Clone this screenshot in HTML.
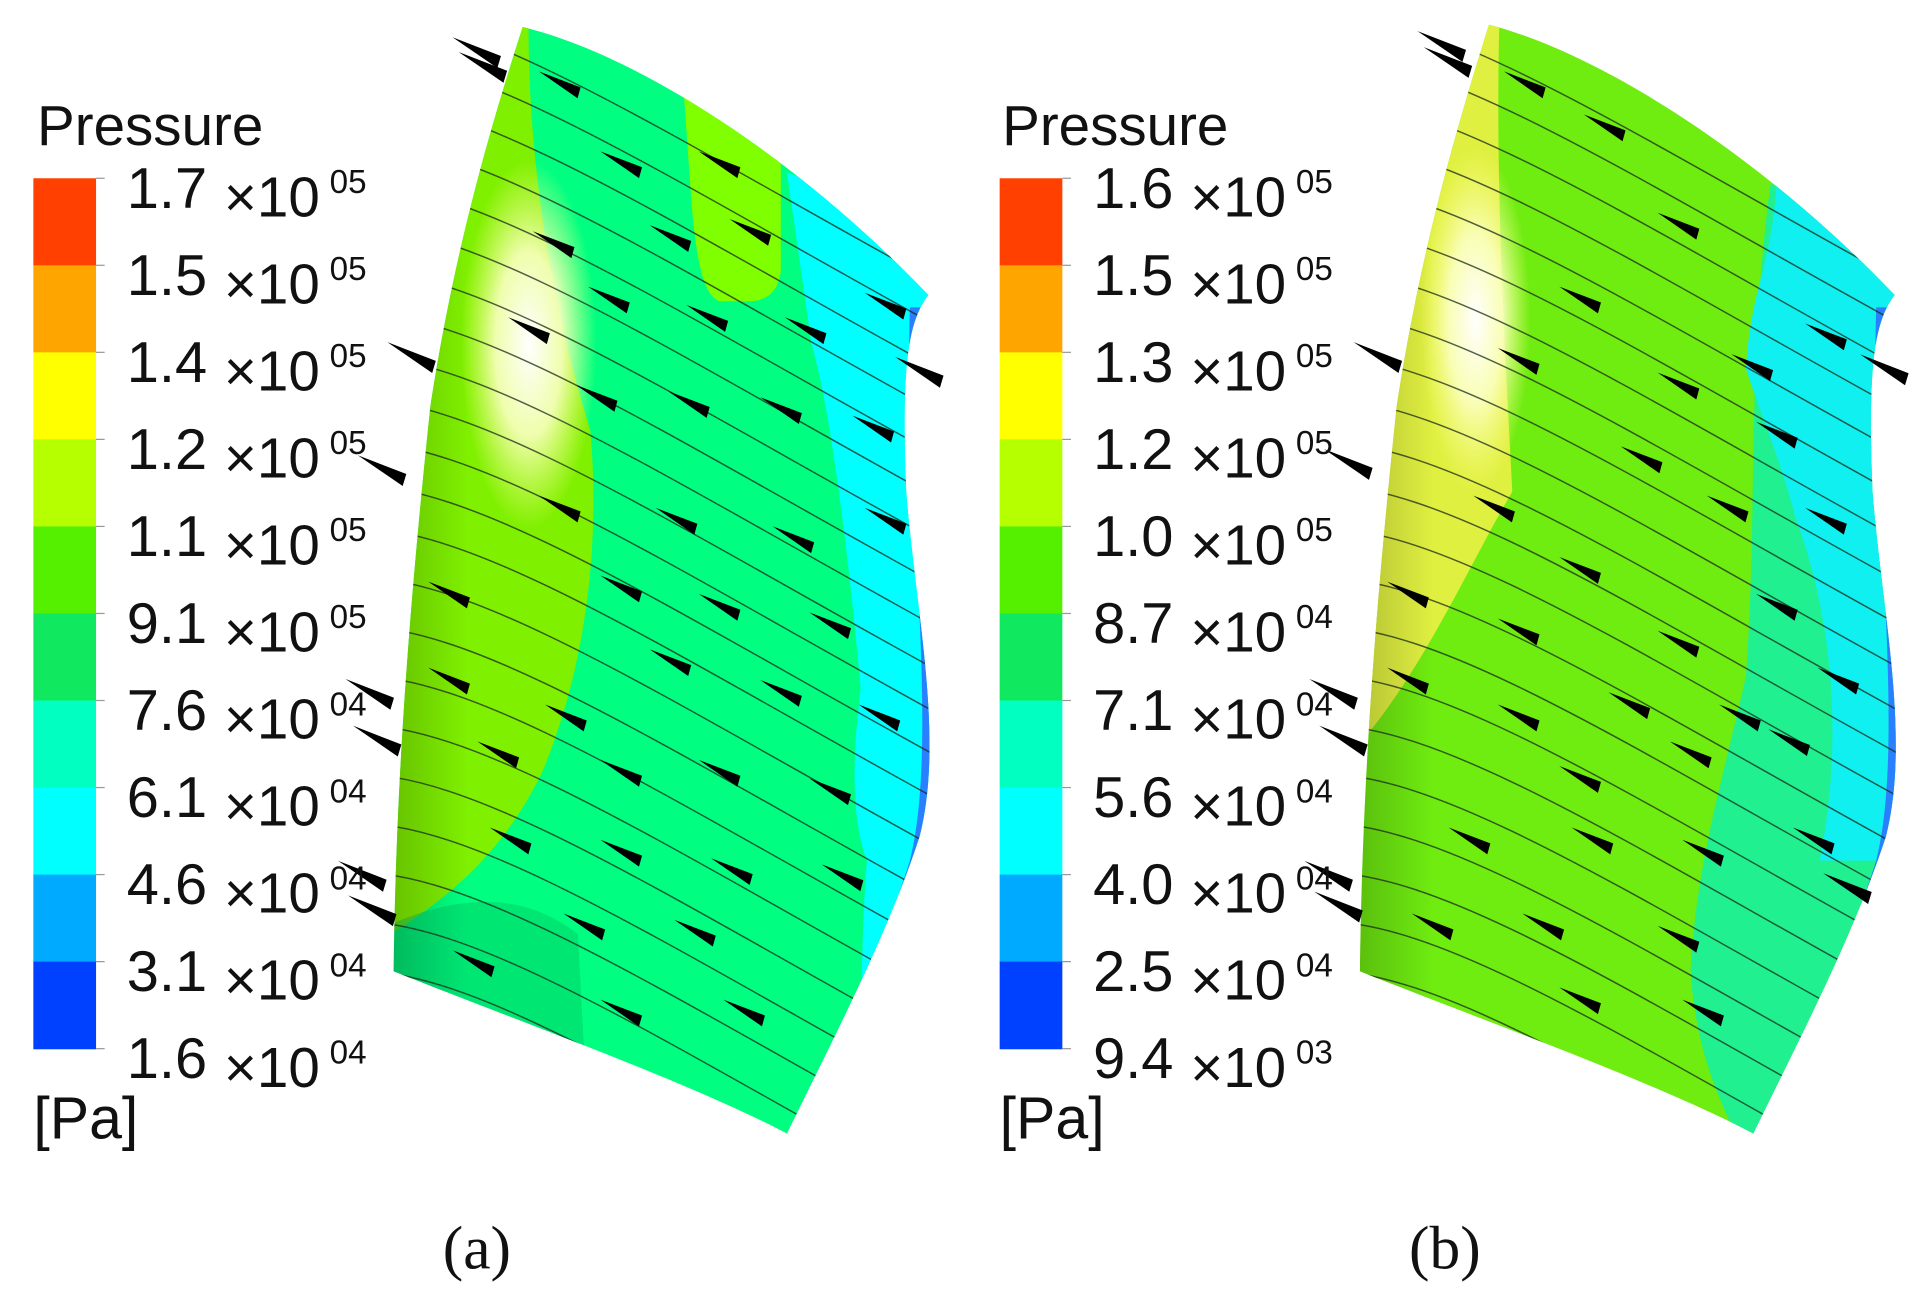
<!DOCTYPE html>
<html><head><meta charset="utf-8"><style>
html,body{margin:0;padding:0;background:#fff;width:1928px;height:1297px;overflow:hidden}
svg{display:block}
text{font-family:"Liberation Sans",sans-serif;fill:#111}
</style></head><body>
<svg id="fig" width="1928" height="1297" viewBox="0 0 1568 1055" xmlns="http://www.w3.org/2000/svg">
<defs>
<radialGradient id="hlA" cx="0.5" cy="0.5" r="0.5"><stop offset="0" stop-color="#ffffff"/><stop offset="0.5" stop-color="#fbffc0" stop-opacity="0.9"/><stop offset="1" stop-color="#fbff80" stop-opacity="0"/></radialGradient>
<linearGradient id="shadeL" x1="0" y1="0" x2="1" y2="0"><stop offset="0" stop-color="#000" stop-opacity="0.25"/><stop offset="1" stop-color="#000" stop-opacity="0"/></linearGradient>
<clipPath id="clipA"><path d="M425,22 C520,45 650,130 755,240 C738,262 733,300 737,400 C745,500 768,600 748,680 C722,760 680,840 640,922 C560,880 420,830 320,790 C322,650 330,520 350,330 C370,200 400,100 425,22 Z"/></clipPath>
<clipPath id="clipB"><path d="M1211,20 C1306,45 1436,130 1541,240 C1524,262 1519,300 1523,400 C1531,500 1554,600 1534,680 C1508,760 1466,840 1426,922 C1346,880 1206,830 1106,790 C1108,650 1116,520 1136,330 C1156,200 1186,100 1211,20 Z"/></clipPath>
</defs>
<g id="panelA">
 <g clip-path="url(#clipA)">
  <rect x="300" y="0" width="480" height="950" fill="#00ff80"/>
  <path d="M300,0 L430,0 C428,100 440,220 480,350 C490,460 470,560 440,630 C410,690 370,730 300,770 Z" fill="#7ff000"/>
  <ellipse cx="430" cy="280" rx="55" ry="150" fill="url(#hlA)"/>
  <path d="M555,60 L635,110 L635,220 C633,240 620,245 610,245 L585,245 C570,240 565,200 562,160 Z" fill="#80ff00"/>
  <path d="M640,140 L790,200 L790,950 L700,950 C700,850 700,760 705,700 C690,660 695,600 700,560 C690,450 675,330 660,280 Z" fill="#00ffff"/>
  <path d="M740,250 C735,400 765,600 740,700 C715,780 680,850 640,922 L660,930 C700,850 740,780 760,700 C780,600 750,400 755,250 Z" fill="#2a7fff"/>
  <path d="M300,760 C360,730 420,720 470,760 L480,950 L300,950 Z" fill="#00c060" opacity="0.4"/>
  <path d="M300,790 C420,830 560,880 640,922 L640,940 L300,940 Z" fill="#60e020"/>
  <rect x="300" y="0" width="80" height="950" fill="url(#shadeL)"/>
  <g id="linesA"></g><g id="arrA"></g>
 </g>
 <g id="edgeA"></g>
 <g id="cbarA"></g>
 <text x="30" y="118" font-size="46">Pressure</text>
 <text x="27" y="926" font-size="48">[Pa]</text>
 <text x="360" y="1032" font-size="50" style="font-family:'Liberation Serif',serif">(a)</text>
</g>
<g id="panelB">
 <g clip-path="url(#clipB)">
  <rect x="1086" y="0" width="480" height="950" fill="#6fec10"/>
  <path d="M1086,0 L1220,0 C1215,150 1225,300 1230,400 C1200,450 1160,540 1110,600 L1086,620 Z" fill="#e0f040"/>
  <ellipse cx="1200" cy="260" rx="45" ry="140" fill="url(#hlA)"/>
  <path d="M1440,150 C1420,300 1430,420 1420,550 C1400,640 1380,700 1375,790 C1380,860 1400,900 1426,950 L1570,950 L1570,150 Z" fill="#20f090"/>
  <path d="M1445,150 C1440,220 1425,230 1420,300 C1430,330 1450,380 1460,420 C1490,500 1500,600 1480,700 L1570,700 L1570,150 Z" fill="#10f0f0"/>
  <path d="M1526,250 C1521,400 1551,600 1526,700 C1501,780 1461,850 1426,922 L1446,930 C1486,850 1526,780 1546,700 C1566,600 1536,400 1541,250 Z" fill="#2a7fff"/>
  <rect x="1086" y="0" width="80" height="950" fill="url(#shadeL)"/>
  <g id="linesB"></g><g id="arrB"></g>
 </g>
 <g id="edgeB"></g>
 <g id="cbarB"></g>
 <text x="815" y="118" font-size="46">Pressure</text>
 <text x="813" y="926" font-size="48">[Pa]</text>
 <text x="1146" y="1032" font-size="50" style="font-family:'Liberation Serif',serif">(b)</text>
</g>
</svg>
<script>
const NS="http://www.w3.org/2000/svg";
const bandColors=["#ff4000","#ffa500","#ffff00","#b5ff00","#55f000","#10e860","#00ffc0","#00ffff","#00aaff","#0040ff"];
const labelsA=["1.7","1.5","1.4","1.2","1.1","9.1","7.6","6.1","4.6","3.1","1.6"];
const expA=["05","05","05","05","05","05","04","04","04","04","04"];
const labelsB=["1.6","1.5","1.3","1.2","1.0","8.7","7.1","5.6","4.0","2.5","9.4"];
const expB=["05","05","05","05","05","04","04","04","04","04","03"];
const streamStarts=[-260,-200,-150,-110,-70,-30,10,45,80,115,150,185,220,255,290,325,360,395,430,470,510,550,590,630,670,710,750,790];
const arrowsA=[[470,75],[600,140],[520,140],[465,205],[560,200],[625,195],[510,250],[590,265],[670,275],[735,255],[445,275],[500,330],[575,335],[650,340],[725,355],[470,420],[565,430],[660,445],[735,430],[380,490],[520,485],[600,500],[690,515],[380,560],[475,590],[560,545],[650,570],[730,590],[420,620],[520,635],[600,635],[690,650],[430,690],[520,700],[610,715],[700,720],[490,760],[580,765],[400,790],[520,830],[620,830]];
const arrowsB=[[1255,75],[1320,110],[1380,190],[1440,305],[1300,250],[1250,300],[1380,320],[1460,360],[1500,280],[1230,420],[1350,380],[1420,420],[1500,430],[1160,490],[1300,470],[1380,530],[1460,500],[1510,560],[1250,520],[1340,580],[1430,590],[1160,560],[1250,590],[1300,640],[1390,620],[1470,610],[1210,690],[1310,690],[1400,700],[1490,690],[1180,760],[1270,760],[1380,770],[1300,820],[1400,830]];
const edgeArrowsA=[[405,50],[410,62],[765,310],[352,298],[328,390],[318,572],[324,610],[312,720],[320,748]];
const edgeArrowsB=[[1190,45],[1195,58],[1550,308],[1138,298],[1114,385],[1102,572],[1110,610],[1098,720],[1106,745],[1520,730]];

const cbTop=145, cbBot=853;
function yBand(i,n){return cbTop+(cbBot-cbTop)*i/n;}
function drawColorbar(gid,x0,labels,exps){
  const g=document.getElementById(gid);
  const n=bandColors.length;
  bandColors.forEach((c,i)=>{
    const r=document.createElementNS(NS,"rect");
    r.setAttribute("x",x0);r.setAttribute("y",yBand(i,n));r.setAttribute("width",51);r.setAttribute("height",(cbBot-cbTop)/n+0.5);r.setAttribute("fill",c);
    
    
    g.appendChild(r);
  });
  labels.forEach((l,i)=>{
    const y=yBand(i,n);
    const tk=document.createElementNS(NS,"line");
    tk.setAttribute("x1",x0+51);tk.setAttribute("x2",x0+58);tk.setAttribute("y1",y);tk.setAttribute("y2",y);tk.setAttribute("stroke","#999");
    
    
    g.appendChild(tk);
    const t=document.createElementNS(NS,"text");
    t.setAttribute("x",x0+76);t.setAttribute("y",y+24);t.setAttribute("font-size","47");
    t.textContent=l;
    
    
    g.appendChild(t);
    const t2=document.createElementNS(NS,"text");
    t2.setAttribute("x",x0+155);t2.setAttribute("y",y+31);t2.setAttribute("font-size","46");
    t2.textContent="\u00d710";
    
    
    g.appendChild(t2);
    const t3=document.createElementNS(NS,"text");
    t3.setAttribute("x",x0+241);t3.setAttribute("y",y+12);t3.setAttribute("font-size","27");
    t3.textContent=exps[i];
    
    
    g.appendChild(t3);
  });
}
drawColorbar("cbarA",27,labelsA,expA);
drawColorbar("cbarB",813,labelsB,expB);

function drawLines(gid,dx){
  const g=document.getElementById(gid);
  streamStarts.forEach(s=>{
    const p=document.createElementNS(NS,"path");
    p.setAttribute("d",`M${300+dx},${s} C${400+dx},${s+5} ${560+dx},${s+110} ${780+dx},${s+230}`);
    p.setAttribute("fill","none");p.setAttribute("stroke","#1a2a1a");p.setAttribute("stroke-width","1.2");p.setAttribute("opacity","0.75");
    
    
    g.appendChild(p);
  });
}
drawLines("linesA",0);drawLines("linesB",786);

function drawArrows(gid,list,len,w){
  const g=document.getElementById(gid);
  list.forEach(([x,y])=>{
    const a=document.createElementNS(NS,"polygon");
    a.setAttribute("points",`${x-len},${y} ${x},${y-w} ${x+2},${y+w}`);
    a.setAttribute("transform",`rotate(28 ${x} ${y})`);
    a.setAttribute("fill","#000");
    
    
    g.appendChild(a);
  });
}
drawArrows("arrA",arrowsA,36,4.5);drawArrows("arrB",arrowsB,36,4.5);
drawArrows("edgeA",edgeArrowsA,42,5);drawArrows("edgeB",edgeArrowsB,42,5);
</script>
</body></html>
